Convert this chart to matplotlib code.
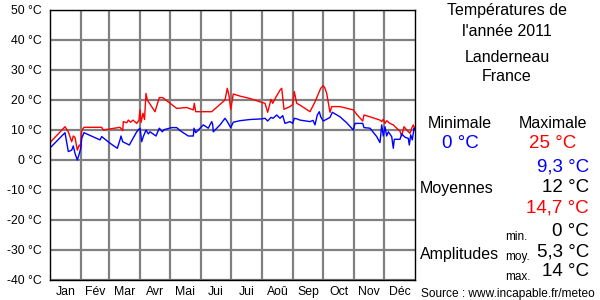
import matplotlib
matplotlib.use("Agg")
import matplotlib.pyplot as plt

plt.rcParams['font.family'] = ['Liberation Sans', 'DejaVu Sans']

months = ["Jan", "Fév", "Mar", "Avr", "Mai", "Jui", "Jui", "Aoû", "Sep", "Oct", "Nov", "Déc"]
month_starts = [0, 31, 59, 90, 120, 151, 181, 212, 243, 273, 304, 334, 365]
yticks = [-40, -30, -20, -10, 0, 10, 20, 30, 40, 50]

max_days = [0, 15, 18.3, 21.7, 23.3, 25, 27.3, 29.3, 30.7, 31.7, 34, 51.7, 53.3, 70, 72.7, 73.3, 76.7,
            78.3, 80.5, 83, 86.7, 89, 90, 91, 93, 94.5, 96, 97.3, 105, 109.3, 112.7, 126.7, 136.7,
            143.3, 144.3, 145.7, 161.7, 175, 177.3, 179, 180.7, 183.3, 190, 200, 211.7, 215, 217.7,
            221, 222.7, 226, 230, 231.7, 234, 240, 242.7, 244.3, 246.7, 250, 260, 265, 270.7, 273.3,
            275, 276.7, 280, 281.7, 290, 303.3, 307.3, 312.7, 314, 320, 330, 331.7, 333.3, 335, 336.7,
            340, 343.3, 346.7, 350, 351.7, 354, 356.7, 360, 361.7, 363.3, 365]
max_vals = [5.8, 11.1, 9.4, 6.1, 8, 7.5, 3.3, 5, 4.5, 9.8, 10.9, 10.9, 10, 10.9, 9.8, 12.8, 12.4,
            13.3, 12.6, 13.3, 12.2, 13.3, 16.7, 12.5, 15.6, 13.5, 22.2, 20, 16.1, 20.8, 20.8, 17.2, 17.5,
            16.7, 18.9, 16.1, 16.1, 20, 23.9, 21.5, 16.9, 22, 21.3, 20.5, 19.2, 18.9, 15.9,
            20.2, 18.9, 21, 23.3, 23.9, 16.9, 17.8, 18.5, 22.8, 18.9, 18.3, 16.1, 19.4, 23.9, 24.8,
            23.9, 22.2, 15.9, 17.8, 17.8, 16.7, 15, 13, 15, 14.4, 13.3, 12.8, 13.6, 12.2, 13.1,
            12.2, 11.7, 10.6, 9.6, 8, 11.1, 10, 8.9, 10.6, 11.7, 10.2]

min_days = [0, 15, 18.3, 21.7, 23.3, 25, 27.3, 29.3, 30.7, 31.7, 34, 50, 51.7, 60, 67.3, 70, 71, 72.7,
            79.3, 86.7, 90, 91.7, 93.3, 96, 98.3, 100, 106, 109.3, 112.3, 114, 121.7, 126.7, 130,
            138.3, 143.3, 144, 145.7, 153.3, 158.3, 161.7, 162.7, 163.3, 170, 175, 177.3, 180.7, 183.3,
            190, 200, 211.7, 215, 217.7, 221, 223, 226.7, 230, 232.7, 235, 240, 242.7, 244.3, 247,
            250, 260, 263, 265, 267.3, 269.3, 270.7, 273.3, 276.7, 280, 282.3, 290, 296.7, 303.3,
            305, 312.7, 314, 320, 326.7, 330, 331.7, 333.3, 335, 336.7, 338.3, 341.7, 343.3, 344.3,
            350, 351.7, 355, 358.3, 359.3, 360.7, 362.3, 364, 365]
min_vals = [4, 9.1, 2.8, 3.3, 4.7, 2.2, 0, 2.1, 3.9, 7.2, 9.1, 6.7, 7.8, 5.6, 3.9, 6.7, 8, 6.1,
            5, 9.4, 10.6, 6.1, 7.8, 10, 8.7, 9.4, 8, 10.6, 9.4, 10.1, 10.8, 10.8, 9.8,
            8, 8, 10.6, 9.1, 11.7, 10.6, 12.8, 11.8, 9.4, 11.7, 13.9, 12.8, 10.8, 12.6,
            13.1, 13.5, 13.7, 13.9, 13, 14.2, 13.9, 15, 13.9, 14.8, 12.2, 12.8, 12.2, 13.9, 13.7,
            13.3, 12.8, 13.2, 11.7, 15, 16.1, 14.4, 13, 13.6, 14.2, 15.9, 14.4, 12.4, 10,
            12.2, 12.2, 10.8, 10.6, 7.8, 5.8, 11.7, 8, 11.1, 8, 9.4, 7.8, 3.9, 6.9,
            6.9, 8.7, 7.6, 7.2, 5, 8.4, 6.7, 10.6, 10.2]

fig = plt.figure(figsize=(6, 3), dpi=100)
ax = fig.add_axes([50/600, 20/300, 365/600, 270/300])
ax.plot(max_days, max_vals, color="#ff0000", lw=1.0)
ax.plot(min_days, min_vals, color="#0000ff", lw=1.0)
ax.set_xlim(0, 365)
ax.set_ylim(-40, 50)
ax.set_yticks(yticks)
ax.set_yticklabels([f"{v} °C" for v in yticks], fontsize=8.8)
ax.set_xticks(month_starts[1:-1])
ax.set_xticklabels([])
ax.set_xticks([(month_starts[i] + month_starts[i+1]) / 2 for i in range(12)], minor=True)
ax.set_xticklabels(months, minor=True, fontsize=8.8)
ax.tick_params(axis='both', which='both', length=0, pad=6)
ax.tick_params(axis='x', which='minor', pad=4)
ax.grid(True, which='major', color="#808080", lw=1.6)
ax.set_axisbelow(True)
for s in ax.spines.values():
    s.set_color("black")
    s.set_linewidth(1.0)

def t(x, y, s, size=11.5, color="black", ha="center"):
    fig.text(x/600, 1 - y/300, s, fontsize=size, color=color, ha=ha, va="center")

t(507, 10, "Températures de")
t(507, 31, "l'année 2011")
t(507, 58, "Landerneau")
t(507, 77, "France")
t(460, 124, "Minimale")
t(553, 124, "Maximale")
t(460, 143, "0 °C", 13.5, "#0000ff")
t(553, 143, "25 °C", 13.5, "#ff0000")
t(589, 167, "9,3 °C", 13.5, "#0000ff", "right")
t(457, 189, "Moyennes")
t(589, 188, "12 °C", 13.5, "black", "right")
t(589, 208, "14,7 °C", 13.5, "#ff0000", "right")
t(505, 237, "min.", 8.5, ha="left")
t(589, 232, "0 °C", 13.5, "black", "right")
t(420, 254, "Amplitudes", ha="left")
t(505, 257, "moy.", 8.5, ha="left")
t(589, 252, "5,3 °C", 13.5, "black", "right")
t(505, 277, "max.", 8.5, ha="left")
t(589, 272, "14 °C", 13.5, "black", "right")
t(508, 294, "Source : www.incapable.fr/meteo", 8.6)

fig.savefig("out.png", dpi=100)
